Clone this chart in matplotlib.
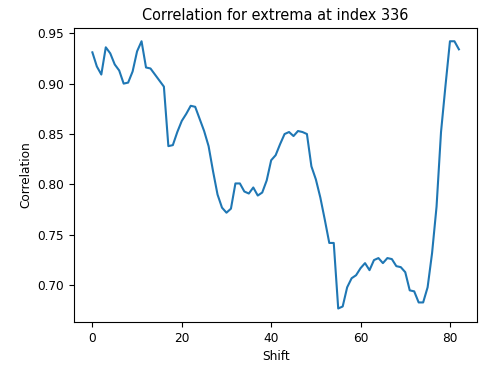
import matplotlib
matplotlib.use("Agg")
import matplotlib.pyplot as plt

shift = list(range(83))
correlation = [
    0.931, 0.917, 0.909, 0.936, 0.930, 0.919, 0.913, 0.900, 0.901, 0.912,
    0.932, 0.942, 0.916, 0.915, 0.909, 0.903, 0.897, 0.838, 0.839, 0.852,
    0.863, 0.870, 0.878, 0.877, 0.865, 0.853, 0.838, 0.813, 0.790, 0.777,
    0.772, 0.776, 0.801, 0.801, 0.793, 0.791, 0.797, 0.789, 0.792, 0.804,
    0.824, 0.829, 0.840, 0.850, 0.852, 0.848, 0.853, 0.852, 0.850, 0.818,
    0.805, 0.787, 0.765, 0.742, 0.742, 0.677, 0.679, 0.698, 0.707, 0.710,
    0.717, 0.722, 0.715, 0.725, 0.727, 0.722, 0.727, 0.726, 0.719, 0.718,
    0.713, 0.695, 0.694, 0.683, 0.683, 0.698, 0.732, 0.778, 0.852, 0.898,
    0.942, 0.942, 0.934,
]

plt.rcParams["font.size"] = 8.7

fig = plt.figure(figsize=(4.84, 3.67), dpi=100)
ax = fig.add_axes([0.153, 0.123, 0.833, 0.801])
ax.plot(shift, correlation, color="#1f77b4")
ax.set_title("Correlation for extrema at index 336")
ax.set_xlabel("Shift")
ax.set_ylabel("Correlation")
ax.set_xticks([0, 20, 40, 60, 80])
ax.set_yticks([0.70, 0.75, 0.80, 0.85, 0.90, 0.95])

fig.savefig("out.png", dpi=100)
